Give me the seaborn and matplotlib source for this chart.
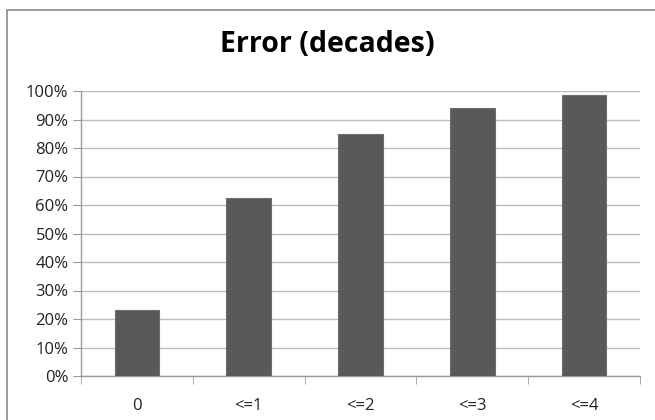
import matplotlib
matplotlib.use("Agg")
import matplotlib.pyplot as plt
import seaborn as sns
import pandas as pd
import numpy as np
from matplotlib.ticker import PercentFormatter, FixedLocator
from matplotlib.patches import Rectangle

categories = ["0", "<=1", "<=2", "<=3", "<=4"]
values = [23.2, 62.4, 84.8, 93.9, 98.6]
title = "Error (decades)"

df = pd.DataFrame({"cat": categories, "val": values})

sns.set_style("white")
plt.rcParams['font.family'] = ['Open Sans', 'DejaVu Sans']

W, H = 655, 420
fig = plt.figure(figsize=(W / 100, H / 100), dpi=100)
ax = fig.add_axes([81 / W, 1 - 376 / H, (640 - 81) / W, (376 - 91) / H])

sns.barplot(data=df, x="cat", y="val", color="#595959", width=0.4,
            edgecolor="#6e6e6e", linewidth=0.8, saturation=1, ax=ax, zorder=3)

ax.set_ylim(0, 100)
ax.set_xlim(-0.5, len(categories) - 0.5)
ax.yaxis.set_major_locator(FixedLocator(np.arange(0, 101, 10)))
ax.yaxis.set_major_formatter(PercentFormatter(decimals=0))
ax.grid(axis="y", color="#bcbcbc", linewidth=1.0, zorder=0)
ax.set_axisbelow(True)
ax.set_xlabel("")
ax.set_ylabel("")

for s in ["top", "right"]:
    ax.spines[s].set_visible(False)
for s in ["left", "bottom"]:
    ax.spines[s].set_color("#9a9a9a")
    ax.spines[s].set_linewidth(1.0)

ax.tick_params(axis="y", which="major", length=6, color="#9a9a9a", labelsize=12,
               labelcolor="#222222", pad=3, left=True)
ax.tick_params(axis="x", which="major", length=0, labelsize=12, labelcolor="#222222", pad=16)
ax.xaxis.set_minor_locator(FixedLocator(np.arange(-0.5, len(categories), 1.0)))
ax.tick_params(axis="x", which="minor", length=6, color="#9a9a9a", bottom=True)

fig.text(0.5, 1 - 45 / H, title, ha="center", va="center", fontsize=20.5, fontweight="bold",
         color="#000000")

fig.patches.append(Rectangle((7 / W, -0.05), 1.2, 1 - 10 / H + 0.05, transform=fig.transFigure,
                             fill=False, edgecolor="#8c8c8c", linewidth=1.2))

fig.savefig("out.png", dpi=100, facecolor="white")
